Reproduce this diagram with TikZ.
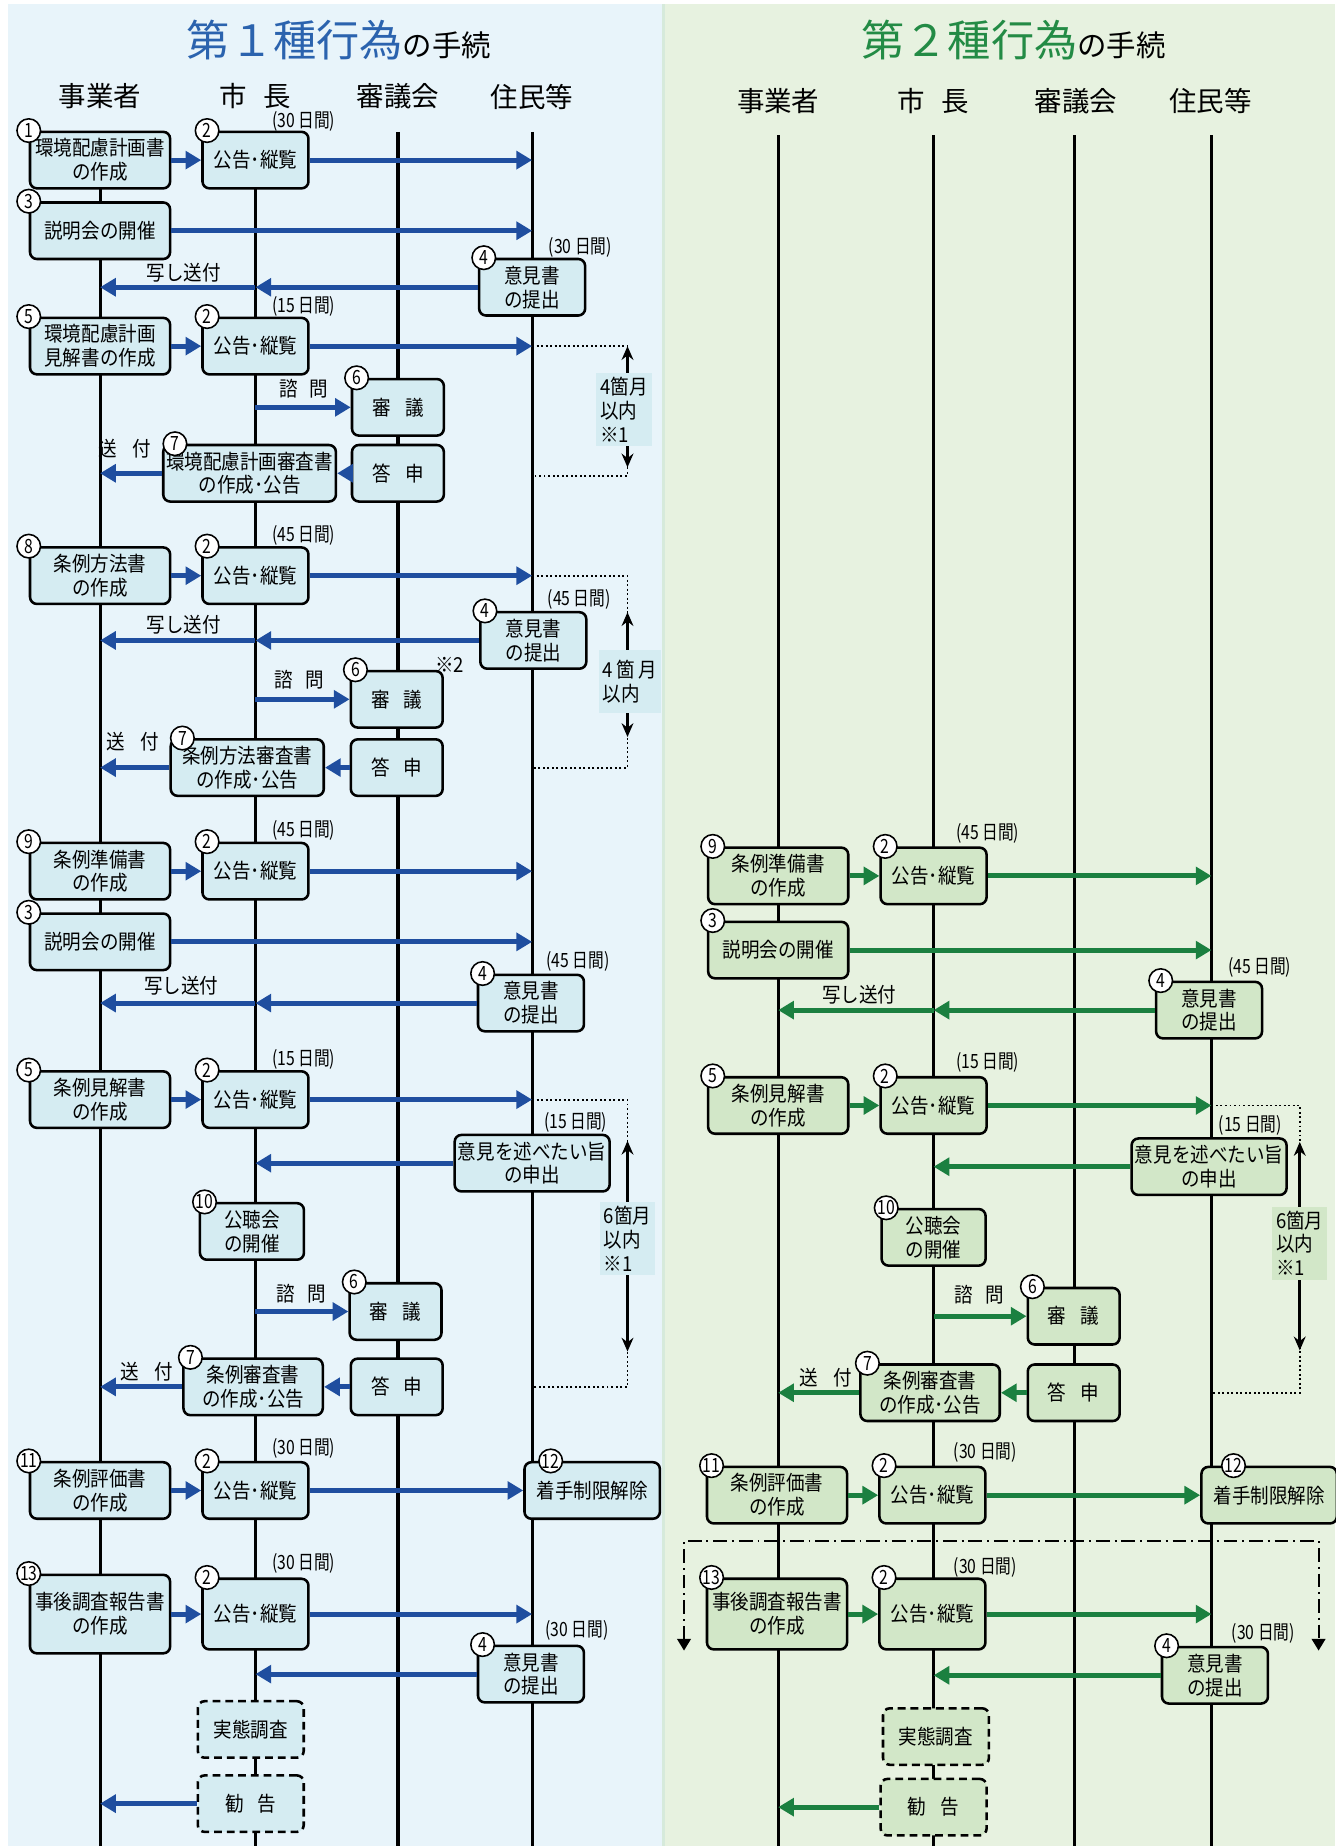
\documentclass[tikz,border=0pt]{standalone}
\usepackage{fontspec}
\setmainfont{Noto Sans CJK JP}
\newfontfamily\boxfont[FakeStretch=0.9]{Noto Sans CJK JP}
\newfontfamily\thinfont[FakeStretch=0.8]{Noto Sans CJK JP}
\usetikzlibrary{arrows.meta}
\definecolor{bgL}{HTML}{E8F4FA}
\definecolor{bgR}{HTML}{E7F2E0}
\definecolor{sepc}{HTML}{D6EADB}
\definecolor{fillL}{HTML}{D5ECF2}
\definecolor{fillR}{HTML}{D2E7C8}
\definecolor{arrL}{HTML}{1F4E9F}
\definecolor{arrR}{HTML}{1B8040}
\definecolor{ttlL}{HTML}{2B63AE}
\definecolor{ttlR}{HTML}{238B45}

\begin{document}
\begin{tikzpicture}
  [x=0.6pt,y=-0.6pt,
   box/.style={draw,line width=1.3pt,rounded corners=3.5pt,align=center,inner sep=1pt,
     minimum height=28.8pt,font=\boxfont\fontsize{10.5}{12.2}\selectfont},
   bl/.style={box,fill=fillL},
   gr/.style={box,fill=fillR},
   wbox/.style={minimum width=71.4pt},
   mbox/.style={minimum width=54pt},
   nbox/.style={minimum width=46.8pt},
   survey/.style={dash pattern=on 4pt off 2.5pt},
   num/.style={circle,draw,line width=.8pt,fill=white,inner sep=0pt,minimum size=12pt,
     font=\thinfont\fontsize{10}{10}\selectfont},
   days/.style={font=\thinfont\fontsize{10}{10}\selectfont},
   lbl/.style={font=\boxfont\fontsize{10.5}{12}\selectfont},
   hdr/.style={font=\fontsize{14}{14}\selectfont},
   life/.style={line width=1.6pt},
   msgL/.style={arrL,line width=2.6pt,-{Triangle[length=8pt,width=9pt]}},
   msgR/.style={arrR,line width=2.6pt,-{Triangle[length=8pt,width=9pt]}},
   brk/.style={line width=1pt,dash pattern=on 1pt off 1.3pt},
   period/.style={line width=1.4pt,{Stealth[length=7pt,width=6pt]}-{Stealth[length=7pt,width=6pt]}},
   noteL/.style={fill=fillL,align=left,inner sep=2pt,font=\boxfont\fontsize{10.5}{12.2}\selectfont},
   noteR/.style={noteL,fill=fillR}]

  \useasboundingbox (0,0) rectangle (1134,1568);
  \fill[bgL] (7,3.4) rectangle (562.4,1568);
  \fill[sepc] (562.4,3.4) rectangle (565,1568);
  \fill[bgR] (565,3.4) rectangle (1134,1568);

  \node (t1) at (288,34) {\color{ttlL}\fontsize{22}{22}\selectfont 第１種行為\color{black}\fontsize{15}{15}\selectfont の手続};
  \node (t2) at (861,34) {\color{ttlR}\fontsize{22}{22}\selectfont 第２種行為\color{black}\fontsize{15}{15}\selectfont の手続};

  \foreach \x/\y/\t [count=\i] in {85/82/事業者, 217/82/市\hspace{.6em}長, 338/82/審議会, 452/82/住民等,
      661/86/事業者, 793/86/市\hspace{.6em}長, 914/86/審議会, 1028/86/住民等}
    \node[hdr] (h\i) at (\x,\y) {\t};

  \foreach \n/\x/\y in {lj/85/112, lm/217/112, ls/338/112, lr/452/112,
      rj/661/115, rm/793/115, rs/913/115, rr/1029/115}
    \coordinate (\n) at (\x,\y);
  \foreach \n in {lj,lm,ls,lr,rj,rm,rs,rr}
    \draw[life] (\n) -- ++(0,1460);

  % first kind
  \node[bl,wbox] (A1) at (85,136) {環境配慮計画書\\の作成};
  \node[bl,mbox] (A2) at (217,136) {公告･縦覧};
  \node[bl,wbox] (A3) at (85,196) {説明会の開催};
  \node[bl,mbox] (A4) at (452,244) {意見書\\の提出};
  \node[bl,wbox] (A5) at (85,294) {環境配慮計画\\見解書の作成};
  \node[bl,mbox] (A6) at (217,294) {公告･縦覧};
  \node[bl,nbox] (A7) at (338,346) {審\hspace{.7em}議};
  \node[bl,nbox] (A8) at (338,402) {答\hspace{.7em}申};
  \node[bl,minimum width=88pt] (A9) at (212,402) {環境配慮計画審査書\\の作成･公告};

  \node[bl,wbox] (B1) at (85,489) {条例方法書\\の作成};
  \node[bl,mbox] (B2) at (217,489) {公告･縦覧};
  \node[bl,mbox] (B3) at (453,544) {意見書\\の提出};
  \node[bl,nbox] (B4) at (337,594) {審\hspace{.7em}議};
  \node[bl,nbox] (B5) at (337,652) {答\hspace{.7em}申};
  \node[bl,minimum width=78pt] (B6) at (210,652) {条例方法審査書\\の作成･公告};

  \node[bl,wbox] (C1) at (85,740) {条例準備書\\の作成};
  \node[bl,mbox] (C2) at (217,740) {公告･縦覧};
  \node[bl,wbox] (C3) at (85,800) {説明会の開催};
  \node[bl,mbox] (C4) at (451,852) {意見書\\の提出};

  \node[bl,wbox] (D1) at (85,934) {条例見解書\\の作成};
  \node[bl,mbox] (D2) at (217,934) {公告･縦覧};
  \node[bl,minimum width=79pt] (D3) at (452,988) {意見を述べたい旨\\の申出};
  \node[bl,minimum width=53pt] (D4) at (214,1046) {公聴会\\の開催};
  \node[bl,nbox] (D5) at (336,1114) {審\hspace{.7em}議};
  \node[bl,nbox] (D6) at (337,1178) {答\hspace{.7em}申};
  \node[bl,minimum width=71pt] (D7) at (215,1178) {条例審査書\\の作成･公告};

  \node[bl,wbox] (E1) at (85,1266) {条例評価書\\の作成};
  \node[bl,mbox] (E2) at (217,1266) {公告･縦覧};
  \node[bl,minimum width=69pt] (E3) at (503,1266) {着手制限解除};

  \node[bl,wbox,minimum height=40pt] (F1) at (85,1371) {事後調査報告書\\の作成};
  \node[bl,mbox,minimum height=36pt] (F2) at (217,1371) {公告･縦覧};
  \node[bl,mbox] (F3) at (451,1422) {意見書\\の提出};
  \node[bl,mbox,survey] (F4) at (213,1469) {実態調査};
  \node[bl,mbox,survey] (F5) at (213,1532) {勧\hspace{.7em}告};

  % second kind
  \node[gr,wbox] (rC1) at (661,744) {条例準備書\\の作成};
  \node[gr,mbox] (rC2) at (793,744) {公告･縦覧};
  \node[gr,wbox] (rC3) at (661,807) {説明会の開催};
  \node[gr,mbox] (rC4) at (1027,858) {意見書\\の提出};

  \node[gr,wbox] (rD1) at (661,939) {条例見解書\\の作成};
  \node[gr,mbox] (rD2) at (793,939) {公告･縦覧};
  \node[gr,minimum width=79pt] (rD3) at (1027,991) {意見を述べたい旨\\の申出};
  \node[gr,minimum width=53pt] (rD4) at (793,1051) {公聴会\\の開催};
  \node[gr,nbox] (rD5) at (912,1118) {審\hspace{.7em}議};
  \node[gr,nbox] (rD6) at (912,1183) {答\hspace{.7em}申};
  \node[gr,minimum width=71pt] (rD7) at (790,1183) {条例審査書\\の作成･公告};

  \node[gr,wbox] (rE1) at (660,1270) {条例評価書\\の作成};
  \node[gr,mbox] (rE2) at (792,1270) {公告･縦覧};
  \node[gr,minimum width=69pt] (rE3) at (1078,1270) {着手制限解除};

  \node[gr,wbox,minimum height=36pt] (rF1) at (660,1371) {事後調査報告書\\の作成};
  \node[gr,mbox,minimum height=36pt] (rF2) at (792,1371) {公告･縦覧};
  \node[gr,mbox] (rF3) at (1032,1423) {意見書\\の提出};
  \node[gr,mbox,survey] (rF4) at (795,1475) {実態調査};
  \node[gr,mbox,survey] (rF5) at (793,1535) {勧\hspace{.7em}告};

  \foreach \from/\to in {A1/A2, A5/A6, A8/A9, B1/B2, B5/B6, C1/C2, D1/D2, D6/D7, E1/E2, E2/E3, F1/F2}
    \draw[msgL] (\from) -- (\to);
  \foreach \from/\to in {A2/lr, A3/lr, A4/lm, A6/lr, A9/lj, B2/lr, B3/lm, B6/lj, C2/lr, C3/lr,
      C4/lm, D2/lr, D3/lm, D7/lj, F2/lr, F3/lm, F5/lj}
    \draw[msgL] (\from) -- (\from -| \to);
  \foreach \n in {A4, B3, C4}
    \draw[msgL] (\n -| lm) -- (\n -| lj);
  \foreach \n in {A7, B4, D5}
    \draw[msgL] (\n -| lm) -- (\n);

  \foreach \from/\to in {rC1/rC2, rD1/rD2, rD6/rD7, rE1/rE2, rE2/rE3, rF1/rF2}
    \draw[msgR] (\from) -- (\to);
  \foreach \from/\to in {rC2/rr, rC3/rr, rC4/rm, rD2/rr, rD3/rm, rD7/rj, rF2/rr, rF3/rm, rF5/rj}
    \draw[msgR] (\from) -- (\from -| \to);
  \draw[msgR] (rC4 -| rm) -- (rC4 -| rj);
  \draw[msgR] (rD5 -| rm) -- (rD5);

  \foreach \n/\t in {A1/1, A3/3, A5/5, B1/8, C1/9, C3/3, D1/5, E1/11, F1/13}
    \node[num] (c\n) at (\n.north west) {\t};
  \foreach \n/\t in {A2/2, A4/4, A6/2, A7/6, B2/2, B3/4, B4/6, C2/2, C4/4, D2/2, D4/10, D5/6,
      E2/2, F2/2, F3/4, rC1/9, rC2/2, rC3/3, rC4/4, rD1/5, rD2/2, rD4/10, rD5/6, rE1/11,
      rE2/2, rF1/13, rF2/2, rF3/4}
    \node[num] (c\n) at ([xshift=3pt]\n.north west) {\t};
  \foreach \n/\t/\s in {A9/7/6.6, B6/7/6.6, D7/7/4.2, rD7/7/4.2, E3/12/14, rE3/12/17}
    \node[num] (c\n) at ([xshift=\s pt]\n.north west) {\t};

  \foreach \x/\y/\t [count=\i] in {258/103/30, 493/210/30, 258/260/15, 258/455/45, 492/509/45,
      258/705/45, 491/817/45, 258/900/15, 489/953/15, 258/1230/30, 258/1328/30, 490/1385/30,
      839/708/45, 1070/822/45, 839/902/15, 1062/956/15, 837/1234/30, 837/1331/30, 1073/1387/30}
    \node[days] (dy\i) at (\x,\y) {(\t\ 日間)};
  \foreach \x/\y [count=\i] in {156/232, 156/531, 154/837, 730/845}
    \node[lbl] (cp\i) at (\x,\y) {写し送付};
  \foreach \x/\y [count=\i] in {258/330, 254/577, 256/1099, 832/1100}
    \node[lbl] (ask\i) at (\x,\y) {諮\hspace{.6em}問};
  \foreach \x/\y [count=\i] in {106/381, 113/630, 125/1165, 701/1170}
    \node[lbl] (snd\i) at (\x,\y) {送\hspace{.75em}付};
  \node[lbl] (r2) at (382,565) {※2};

  \coordinate (kA) at (533,404);
  \coordinate (kB) at (533,652);
  \coordinate (kD) at (533,1178);
  \coordinate (krD) at (1104,1183);
  \draw[brk] (A6 -| lr) -| (kA) -- (kA -| lr);
  \draw[brk] (B2 -| lr) -| (kB) -- (kB -| lr);
  \draw[brk] (D2 -| lr) -| (kD) -- (kD -| lr);
  \draw[brk] (rD2 -| rr) -| (krD) -- (krD -| rr);

  \coordinate (pA1) at (533,294);  \coordinate (pA2) at (533,397);
  \coordinate (pB1) at (533,520);  \coordinate (pB2) at (533,626);
  \coordinate (pD1) at (533,969);  \coordinate (pD2) at (533,1148);
  \coordinate (prD1) at (1104,970); \coordinate (prD2) at (1104,1147);
  \foreach \a/\b in {pA1/pA2, pB1/pB2, pD1/pD2, prD1/prD2}
    \draw[period] (\a) -- (\b);
  \node[noteL] (nA) at (530,348) {4箇月\\以内\\※1};
  \node[noteL,minimum height=32pt] (nB) at (535,579) {4\,箇\,月\\以内};
  \node[noteL] (nD) at (533,1052) {6箇月\\以内\\※1};
  \node[noteR] (nrD) at (1104,1056) {6箇月\\以内\\※1};

  \coordinate (dd1) at (581,1402);
  \coordinate (dd2) at (581,1309);
  \coordinate (dd3) at (1120,1309);
  \coordinate (dd4) at (1120,1402);
  \draw[line width=1pt,dash pattern=on 7pt off 2.5pt on 1pt off 2.5pt,
    {Triangle[length=6pt,width=7pt]}-{Triangle[length=6pt,width=7pt]}] (dd1) -- (dd2) -- (dd3) -- (dd4);
\end{tikzpicture}
\end{document}
